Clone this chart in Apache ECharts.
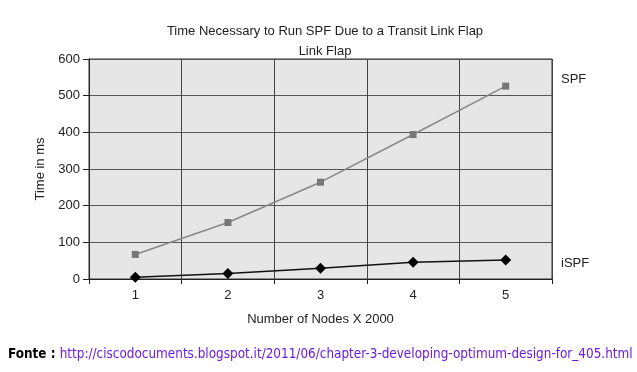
<!DOCTYPE html>
<html><head><meta charset="utf-8">
<script src="https://cdn.jsdelivr.net/npm/echarts@6/dist/echarts.min.js"></script>
<style>html,body{margin:0;padding:0;background:#fff}#c{width:637px;height:372px}</style>
</head><body><div id="c"></div>
<script>
const categories = ['1','2','3','4','5'];
const spfValues = [67, 154, 264, 394, 526];
const ispfValues = [5, 15, 29, 46, 52];
const yTicks = [0,100,200,300,400,500,600];
const FONT = '"Liberation Sans", Arial, sans-serif';

const chart = echarts.init(document.getElementById('c'), null, {renderer:'canvas'});
chart.setOption({
  backgroundColor:'#fff',
  animation:false,
  title:[
    {text:'Time Necessary to Run SPF Due to a Transit Link Flap', left:320, top:20, textAlign:'center',
     textStyle:{fontFamily:FONT, fontSize:13, fontWeight:'normal', color:'#222'}},
    {text:'Link Flap', left:320, top:40, textAlign:'center',
     textStyle:{fontFamily:FONT, fontSize:13, fontWeight:'normal', color:'#222'}},
    {text:'SPF', left:556, top:68, textStyle:{fontFamily:FONT, fontSize:13, fontWeight:'normal', color:'#222'}},
    {text:'iSPF', left:556, top:252, textStyle:{fontFamily:FONT, fontSize:13, fontWeight:'normal', color:'#222'}}
  ],
  graphic:[{
    type:'text', left:8, top:348,
    style:{
      text:'{a|Fonte : }{b|http://ciscodocuments.blogspot.it/2011/06/chapter-3-developing-optimum-design-for_405.html}',
      rich:{
        a:{fontFamily:'"DejaVu Sans Condensed", "DejaVu Sans", sans-serif', fontSize:13.4, fontWeight:'bold', fill:'#000'},
        b:{fontFamily:'"DejaVu Sans Condensed", "DejaVu Sans", sans-serif', fontSize:13.4, fill:'#6a1be0'}
      }
    }
  }],
  grid:{left:89, right:85, top:59, bottom:93, show:true, backgroundColor:'#e6e6e6', borderColor:'#333', borderWidth:1},
  xAxis:{
    type:'category', data:categories, boundaryGap:true,
    name:'Number of Nodes X 2000', nameLocation:'middle', nameGap:34,
    nameTextStyle:{fontFamily:FONT, fontSize:13, color:'#222'},
    axisLine:{lineStyle:{color:'#222', width:1}},
    axisTick:{show:true, alignWithLabel:false, length:5, lineStyle:{color:'#222'}},
    axisLabel:{fontFamily:FONT, fontSize:13, color:'#222', margin:10},
    splitLine:{show:true, lineStyle:{color:'#444', width:1}}
  },
  yAxis:{
    type:'value', min:0, max:600, interval:100,
    name:'Time in ms', nameLocation:'middle', nameGap:38, nameRotate:90,
    nameTextStyle:{fontFamily:FONT, fontSize:13, color:'#222'},
    axisLine:{show:true, lineStyle:{color:'#222'}},
    axisTick:{show:true, length:6, lineStyle:{color:'#222'}},
    axisLabel:{fontFamily:FONT, fontSize:13, color:'#222', margin:9,
      formatter:v=> yTicks.includes(v) ? String(v) : ''},
    splitLine:{show:true, lineStyle:{color:'#555', width:1}}
  },
  series:[
    {name:'SPF', type:'line', data:spfValues, symbol:'rect', symbolSize:7,
     lineStyle:{color:'#888', width:1.5}, itemStyle:{color:'#777'}},
    {name:'iSPF', type:'line', data:ispfValues, symbol:'diamond', symbolSize:11,
     lineStyle:{color:'#111', width:1.5}, itemStyle:{color:'#000'}}
  ]
});
</script></body></html>
